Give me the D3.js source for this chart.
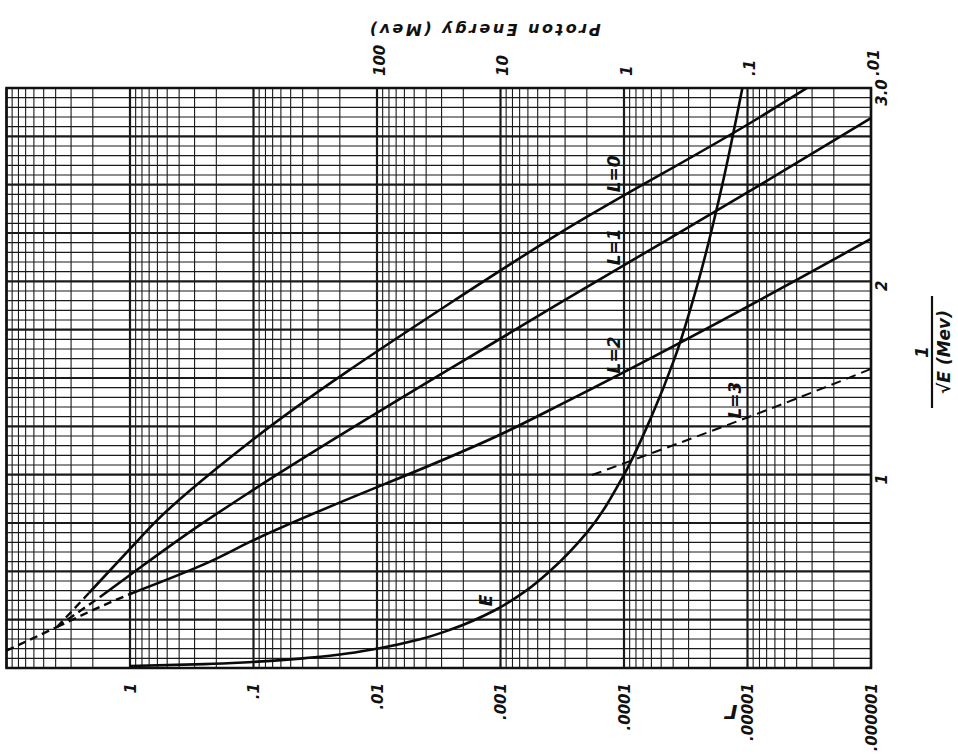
<!DOCTYPE html>
<html>
<head>
<meta charset="utf-8">
<script src="https://cdn.jsdelivr.net/npm/d3@7"></script>
<style>
	body { margin: 0; background: #fff; }
	svg { display: block; }
	.lbl { font-family: "DejaVu Sans", sans-serif; font-weight: bold; font-style: italic; fill: #111; }
</style>
</head>
<body>
<svg id="chart" width="958" height="755"></svg>
<script>
// tick values and their printed labels
var gammaTicks = [1, .1, .01, .001, .0001, .00001, .000001];
var gammaLabels = ["1", ".1", ".01", ".001", ".0001", ".00001", ".000001"];
var energyTicks = [100, 10, 1, .1, .01];
var energyLabels = ["100", "10", "1", ".1", ".01"];
var invSqrtTicks = [1, 2, 3];
var invSqrtLabels = ["1", "2", "3.0"];

// curves, each point is [gamma, 1/sqrt(E)]
var tailDash = [[10, 0.09], [3.9, 0.212]];
var l0Dash = [[3.9, 0.212], [2.15, 0.388]];
var l0 = [[2.15, 0.388], [1, 0.616], [0.6, 0.766], [0.107, 1.169], [0.00233, 1.904], [0.00035, 2.24], [0.0000079, 2.85], [0.0000033, 3.0]];
var l1Dash = [[3.9, 0.212], [1.75, 0.367]];
var l1 = [[1.75, 0.367], [1, 0.481], [0.271, 0.74], [0.107, 0.91], [0.00084, 1.733], [0.00033, 1.888], [0.0000079, 2.499], [0.000001, 2.845]];
var l2Dash = [[3.9, 0.212], [1.75, 0.316], [1, 0.383]];
var l2 = [[1, 0.383], [0.225, 0.55], [0.107, 0.652], [0.00084, 1.231], [0.00033, 1.361], [0.00000123, 2.188], [0.000001, 2.22]];
var l3Dash = [[0.000182, 0.998], [0.0000043, 1.386], [0.000001, 1.547]];

// energy curve: 1/sqrt(E) against proton energy E (Mev)
var eCurveU = [0.01, 0.02, 0.03, 0.05, 0.07, 0.1, 0.15, 0.2, 0.3, 0.4, 0.5, 0.7, 1.0, 1.3, 1.6, 2.0, 2.5, 3.0];
var eCurveMev = [10000, 2500, 1100, 400, 200, 100, 44, 25, 11, 6.2, 4, 2, 1, 0.6, 0.39, 0.25, 0.16, 0.11];

var curveLabels = [
	{ text: "L=0", g: 0.00012, u: 2.556 },
	{ text: "L=1", g: 0.00012, u: 2.178 },
	{ text: "L=2", g: 0.00012, u: 1.619 },
	{ text: "L=3", g: 0.0000126, u: 1.386 }
];

var svg = d3.select("#chart");
var plotLeft = 6.5, plotRight = 871, plotTop = 88, plotBottom = 668;

var x = d3.scaleLog().domain([10, 1e-6]).range([plotLeft, plotRight]);
var xE = d3.scaleLog().domain([1e5, 1e-2]).range([plotLeft, plotRight]);
var y = d3.scaleLinear().domain([0, 3]).range([plotBottom, plotTop]);

// graph paper
var grid = svg.append("g").attr("stroke", "#1a1a1a");
x.ticks().forEach(function (v) {
	var major = Math.abs(Math.log10(v) - Math.round(Math.log10(v))) < 1e-6;
	grid.append("line")
		.attr("x1", x(v)).attr("x2", x(v))
		.attr("y1", plotTop).attr("y2", plotBottom)
		.attr("stroke-width", major ? 2.2 : 1.1);
});
d3.range(0, 61).forEach(function (i) {
	var v = i * 0.05;
	grid.append("line")
		.attr("x1", plotLeft).attr("x2", plotRight)
		.attr("y1", y(v)).attr("y2", y(v))
		.attr("stroke-width", i % 5 === 0 ? 2.2 : 1.1);
});
svg.append("rect")
	.attr("x", plotLeft).attr("y", plotTop)
	.attr("width", plotRight - plotLeft).attr("height", plotBottom - plotTop)
	.attr("fill", "none").attr("stroke", "#111").attr("stroke-width", 2.5);

// curves
var line = d3.line()
	.x(function (d) { return x(d[0]); })
	.y(function (d) { return y(d[1]); })
	.curve(d3.curveMonotoneY);

var curves = svg.append("g").attr("fill", "none").attr("stroke", "#0a0a0a");
[l0, l1, l2].forEach(function (d) {
	curves.append("path").attr("d", line(d)).attr("stroke-width", 2.6);
});
[tailDash, l0Dash, l1Dash, l2Dash].forEach(function (d) {
	curves.append("path").attr("d", line(d)).attr("stroke-width", 2.4).attr("stroke-dasharray", "8,5");
});
curves.append("path").attr("d", line(l3Dash)).attr("stroke-width", 2).attr("stroke-dasharray", "10,6");

var eLine = d3.line()
	.x(function (d, i) { return xE(eCurveMev[i]); })
	.y(function (d) { return y(d); })
	.curve(d3.curveMonotoneY);
curves.append("path").attr("d", eLine(eCurveU)).attr("stroke-width", 2.6);

// curve labels
svg.selectAll("text.curve")
	.data(curveLabels)
	.enter().append("text")
	.attr("class", "lbl curve")
	.attr("font-size", 17)
	.attr("font-weight", "normal")
	.attr("text-anchor", "middle")
	.attr("dy", "0.35em")
	.attr("transform", function (d) { return "translate(" + x(d.g) + "," + y(d.u) + ") rotate(-90)"; })
	.text(function (d) { return d.text; });
svg.append("text")
	.attr("class", "lbl")
	.attr("font-size", 17)
	.attr("font-weight", "normal")
	.attr("text-anchor", "middle")
	.attr("dy", "0.35em")
	.attr("transform", "translate(" + xE(13.1) + "," + y(0.35) + ") rotate(-90)")
	.text("E");

// axes
function styleAxis(g) {
	g.select(".domain").remove();
	g.selectAll("text").attr("class", "lbl").attr("font-size", 15).attr("x", null).attr("y", null).attr("dy", "0.35em");
}

var gAxis = svg.append("g")
	.attr("transform", "translate(0," + plotBottom + ")")
	.call(d3.axisBottom(x).tickValues(gammaTicks).tickSize(0)
		.tickFormat(function (d, i) { return gammaLabels[i]; }))
	.call(styleAxis);
gAxis.selectAll("text").attr("text-anchor", "end").attr("transform", "translate(0,15) rotate(-90)");

var eAxis = svg.append("g")
	.attr("transform", "translate(0," + plotTop + ")")
	.call(d3.axisTop(xE).tickValues(energyTicks).tickSize(0)
		.tickFormat(function (d, i) { return energyLabels[i]; }))
	.call(styleAxis);
eAxis.selectAll("text").attr("text-anchor", "start").attr("transform", "translate(2,-12) rotate(-90)");

var uAxis = svg.append("g")
	.attr("transform", "translate(" + plotRight + ",0)")
	.call(d3.axisRight(y).tickValues(invSqrtTicks).tickSize(0)
		.tickFormat(function (d, i) { return invSqrtLabels[i]; }))
	.call(styleAxis);
uAxis.selectAll("text").attr("text-anchor", "middle").attr("transform", "translate(11,4) rotate(-90)");

// titles
svg.append("text")
	.attr("class", "lbl")
	.attr("font-size", 16)
	.attr("letter-spacing", 2.5)
	.attr("text-anchor", "middle")
	.attr("dy", "0.35em")
	.attr("transform", "translate(484,30) rotate(180)")
	.text("Proton Energy (Mev)");

svg.append("text")
	.attr("class", "lbl")
	.attr("font-size", 20)
	.attr("font-style", "normal")
	.attr("text-anchor", "middle")
	.attr("dy", "0.35em")
	.attr("transform", "translate(731,712) rotate(180)")
	.text("Γ");

var frac = svg.append("g").attr("transform", "translate(932,352)");
frac.append("text")
	.attr("class", "lbl")
	.attr("font-size", 17)
	.attr("text-anchor", "middle")
	.attr("dy", "0.35em")
	.attr("transform", "translate(-10,0) rotate(-90)")
	.text("1");
frac.append("line")
	.attr("x1", 0).attr("x2", 0)
	.attr("y1", -56).attr("y2", 56)
	.attr("stroke", "#111").attr("stroke-width", 2.2);
frac.append("text")
	.attr("class", "lbl")
	.attr("font-size", 17)
	.attr("text-anchor", "middle")
	.attr("dy", "0.35em")
	.attr("transform", "translate(12,0) rotate(-90)")
	.text("√E (Mev)");
</script>
</body>
</html>
